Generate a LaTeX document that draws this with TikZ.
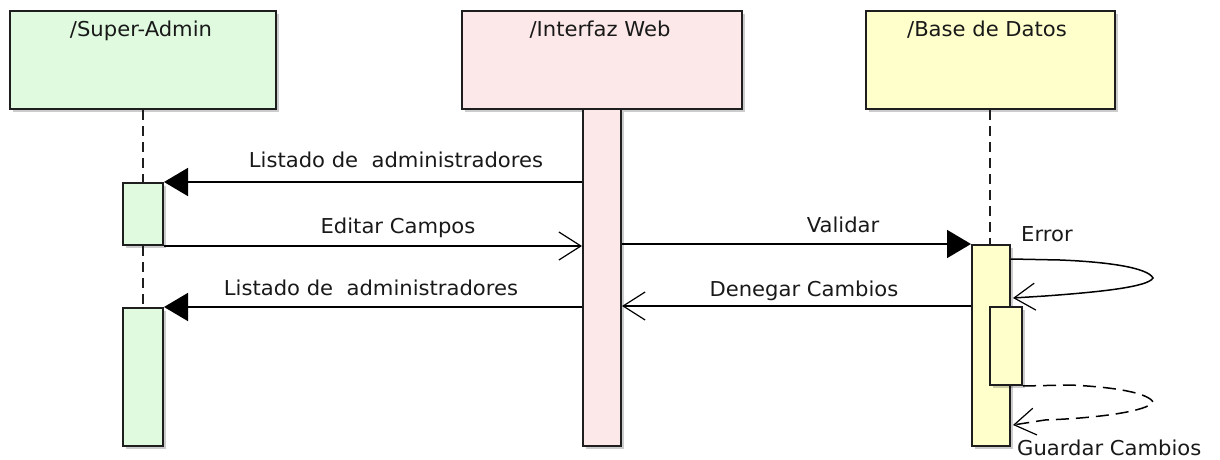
\documentclass[tikz,border=0pt]{standalone}
\usepackage{fontspec}
\newfontfamily\umlfont[FakeStretch=1.03]{DejaVu Sans}
\usetikzlibrary{arrows.meta,shadows,calc}
\definecolor{sagreen}{RGB}{224,250,224}
\definecolor{iwpink}{RGB}{252,232,232}
\definecolor{dbyellow}{RGB}{255,255,204}
\definecolor{edgegray}{RGB}{30,30,30}
\begin{document}
\begin{tikzpicture}[x=1pt,y=-1pt,
  txt/.style={font=\umlfont\fontsize{20.5}{24}\selectfont, inner sep=0pt, text=black!90},
  boxshape/.style={draw=edgegray, line width=2pt, inner sep=0pt, anchor=north west,
    drop shadow={shadow xshift=3pt, shadow yshift=-3pt, fill=black, opacity=0.2}},
  headbox/.style={boxshape, minimum height=98pt},
  actbar/.style={boxshape},
  lifeline/.style={draw=edgegray, line width=1.8pt, dash pattern=on 10pt off 6pt},
  msg/.style={draw=black, line width=1.7pt},
  sync/.style={msg, -{Triangle[length=24pt,width=28pt]}},
  reply/.style={msg, -{Straight Barb[length=22pt,width=28pt,line width=1.2pt]}},
  selfmsg/.style={msg, line width=1.5pt, -{Straight Barb[length=21pt,width=27pt,line width=1.2pt]}}
]
\useasboundingbox (0,0) rectangle (1220,460);

% lifeline heads
\node[headbox, fill=sagreen, minimum width=266pt] (sa) at (9,10) {};
\node[headbox, fill=iwpink, minimum width=280pt] (iw) at (461,10) {};
\node[headbox, fill=dbyellow, minimum width=249pt] (db) at (865,10) {};
\node[txt, anchor=base] (saT) at (141,37) {/Super-Admin};
\node[txt, anchor=base] (iwT) at (600,37) {/Interfaz Web};
\node[txt, anchor=base] (dbT) at (987,37) {/Base de Datos};

% activation bars
\node[actbar, fill=sagreen, minimum width=40pt, minimum height=62pt] (sa1) at (122,182) {};
\node[actbar, fill=sagreen, minimum width=40pt, minimum height=138pt] (sa2) at (122,307) {};
\node[actbar, fill=iwpink, minimum width=38pt, minimum height=337pt] (iwbar) at (582,108) {};
\node[actbar, fill=dbyellow, minimum width=38pt, minimum height=201pt] (dbbar) at (971,244) {};
\node[actbar, fill=dbyellow, minimum width=32pt, minimum height=78pt] (dbbar2) at (989,306) {};

% dashed lifelines
\draw[lifeline] (sa.south -| sa1.north) -- (sa1.north);
\draw[lifeline] (sa1.south) -- (sa2.north);
\draw[lifeline] (db.south -| 990,0) -- (dbbar.north -| 990,0);

% messages
\draw[sync] (iwbar.west |- sa1.north east) -- (sa1.north east);
\node[txt, anchor=base] (l1) at (396,167) {Listado de\ \ administradores};

\draw[reply] (sa1.south east) -- (iwbar.west |- sa1.south east);
\node[txt, anchor=base] (l2) at (398,233) {Editar Campos};

\draw[sync] (iwbar.west |- sa2.north east) -- (sa2.north east);
\node[txt, anchor=base] (l3) at (371,295) {Listado de\ \ administradores};

\draw[sync] (iwbar.east |- dbbar.north west) -- (dbbar.north west);
\node[txt, anchor=base] (l4) at (843,232) {Validar};

\draw[reply] (dbbar.west |- dbbar2.north) -- (iwbar.east |- dbbar2.north);
\node[txt, anchor=base] (l5) at (804,296) {Denegar Cambios};

% self messages
\coordinate (errS) at ($(dbbar.north east)+(0,15)$);
\coordinate (errE) at ($(dbbar.north east)+(2,54)$);
\draw[selfmsg] (errS) -- (1060,260) .. controls (1110,262) and (1148,268) .. (1153,278)
  .. controls (1148,287) and (1100,292) .. (1045,296) -- (errE);
\node[txt, anchor=base west] (l6) at (1021,241) {Error};

\coordinate (guaE) at ($(dbbar.south east)+(2,-22)$);
\draw[selfmsg, dash pattern=on 13pt off 7pt] (dbbar2.south east) -- (1070,385) .. controls (1115,387) and (1148,393) .. (1153,402)
  .. controls (1148,411) and (1100,418) .. (1045,420) -- (guaE);
\node[txt, anchor=base west] (l7) at (1017,455) {Guardar Cambios};
\end{tikzpicture}
\end{document}
